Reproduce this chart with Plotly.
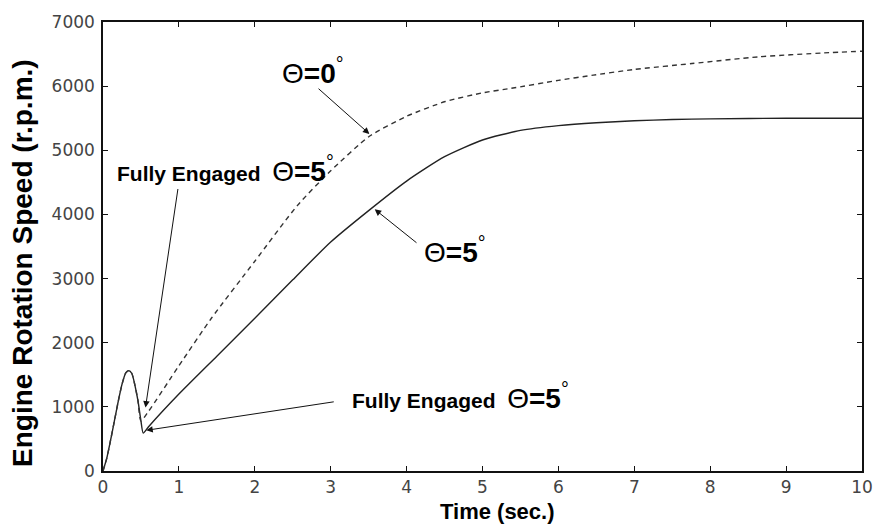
import plotly.graph_objects as go

# ---- data ----
t_solid = [0, 0.05, 0.1, 0.15, 0.2, 0.25, 0.3, 0.34, 0.38, 0.42, 0.46, 0.5, 0.53,
           0.6, 1.0, 1.5, 2.0, 2.5, 3.0, 3.5, 4.0, 4.5, 5.0, 5.5, 6.0, 6.5,
           7.0, 7.5, 8.0, 9.0, 10.0]
rpm_solid = [0, 200, 480, 780, 1080, 1350, 1530, 1565, 1520, 1340, 1100, 780, 590,
             690, 1200, 1790, 2380, 2980, 3570, 4060, 4520, 4900, 5160, 5310, 5385, 5430,
             5460, 5480, 5490, 5500, 5500]

t_dash = [0, 0.05, 0.1, 0.15, 0.2, 0.25, 0.3, 0.34, 0.38, 0.42, 0.46, 0.5,
          0.6, 1.0, 1.43, 2.0, 2.56, 3.0, 3.51, 4.0, 4.51, 5.0, 5.38, 6.0, 6.46,
          7.0, 7.76, 8.63, 9.5, 10.0]
rpm_dash = [0, 200, 480, 780, 1080, 1350, 1530, 1565, 1520, 1340, 1100, 780,
            930, 1640, 2385, 3270, 4138, 4680, 5219, 5530, 5760, 5895, 5966, 6090, 6172,
            6260, 6352, 6456, 6518, 6545]

x_ticks = [0, 1, 2, 3, 4, 5, 6, 7, 8, 9, 10]
y_ticks = [0, 1000, 2000, 3000, 4000, 5000, 6000, 7000]

x_title = "Time (sec.)"
y_title = "Engine Rotation Speed (r.p.m.)"

TH = "<span style='font-family:Arial;font-weight:normal;font-size:28px'>Θ</span>"
label_0 = TH + "<b>=0</b><sup>°</sup>"
label_5 = TH + "<b>=5</b><sup>°</sup>"
label_fe = ("<b>Fully Engaged</b>  " + TH +
            "<span style='font-size:28px'><b>=5</b><sup>°</sup></span>")

fig = go.Figure()
fig.add_trace(go.Scatter(x=t_solid, y=rpm_solid, mode="lines",
                         line=dict(color="#222", width=1.4, shape="spline", smoothing=0.6),
                         showlegend=False))
fig.add_trace(go.Scatter(x=t_dash, y=rpm_dash, mode="lines",
                         line=dict(color="#333", width=1.4, dash="5px,4px",
                                   shape="spline", smoothing=0.6),
                         showlegend=False))

txt_font = dict(family="Arial", size=21, color="black")
big_font = dict(family="Arial", size=28, color="black")

annotations = [
    # text labels
    dict(x=2.77, y=6229, text=label_0, font=big_font),
    dict(x=1.62, y=4714, text=label_fe, font=txt_font),
    dict(x=4.71, y=1175, text=label_fe, font=txt_font),
    dict(x=4.64, y=3447, text=label_5, font=big_font),
    # axis titles
    dict(xref="paper", yref="paper", x=0.520, y=-0.0905, text="<b>" + x_title + "</b>",
         font=dict(family="Arial", size=22, color="black")),
    dict(xref="paper", yref="paper", x=-0.1053, y=0.4636, text="<b>" + y_title + "</b>",
         textangle=-90, font=dict(family="Arial", size=28, color="black")),
]
for a in annotations:
    a.setdefault("xref", "x")
    a.setdefault("yref", "y")
    a.update(showarrow=False, xanchor="center", yanchor="middle")

arrows = [
    (3.51, 5255, 2.82, 5981),
    (0.56, 989, 0.99, 4420),
    (0.57, 634, 3.06, 1082),
    (3.58, 4080, 4.15, 3540),
]
for (x, y, ax, ay) in arrows:
    annotations.append(dict(x=x, y=y, ax=ax, ay=ay, xref="x", yref="y",
                            axref="x", ayref="y", text="", showarrow=True,
                            arrowhead=2, arrowsize=1.3, arrowwidth=1,
                            arrowcolor="#111", standoff=0))

axis_common = dict(showline=True, linecolor="#111", linewidth=1.5, mirror="ticks",
                   ticks="inside", ticklen=5, tickwidth=1, tickcolor="#111",
                   showgrid=False, zeroline=False,
                   tickfont=dict(family="DejaVu Sans", size=17, color="#444"))

fig.update_layout(
    width=885, height=524,
    margin=dict(l=103, r=13, t=18, b=53),
    paper_bgcolor="white", plot_bgcolor="white",
    xaxis=dict(range=[0, 10], tickvals=x_ticks, ticktext=[str(v) for v in x_ticks], **axis_common),
    yaxis=dict(range=[0, 7000], tickvals=y_ticks, ticktext=[str(v) for v in y_ticks],
               ticklabelstandoff=3, **axis_common),
    annotations=annotations,
)

fig.write_html("out.html")
